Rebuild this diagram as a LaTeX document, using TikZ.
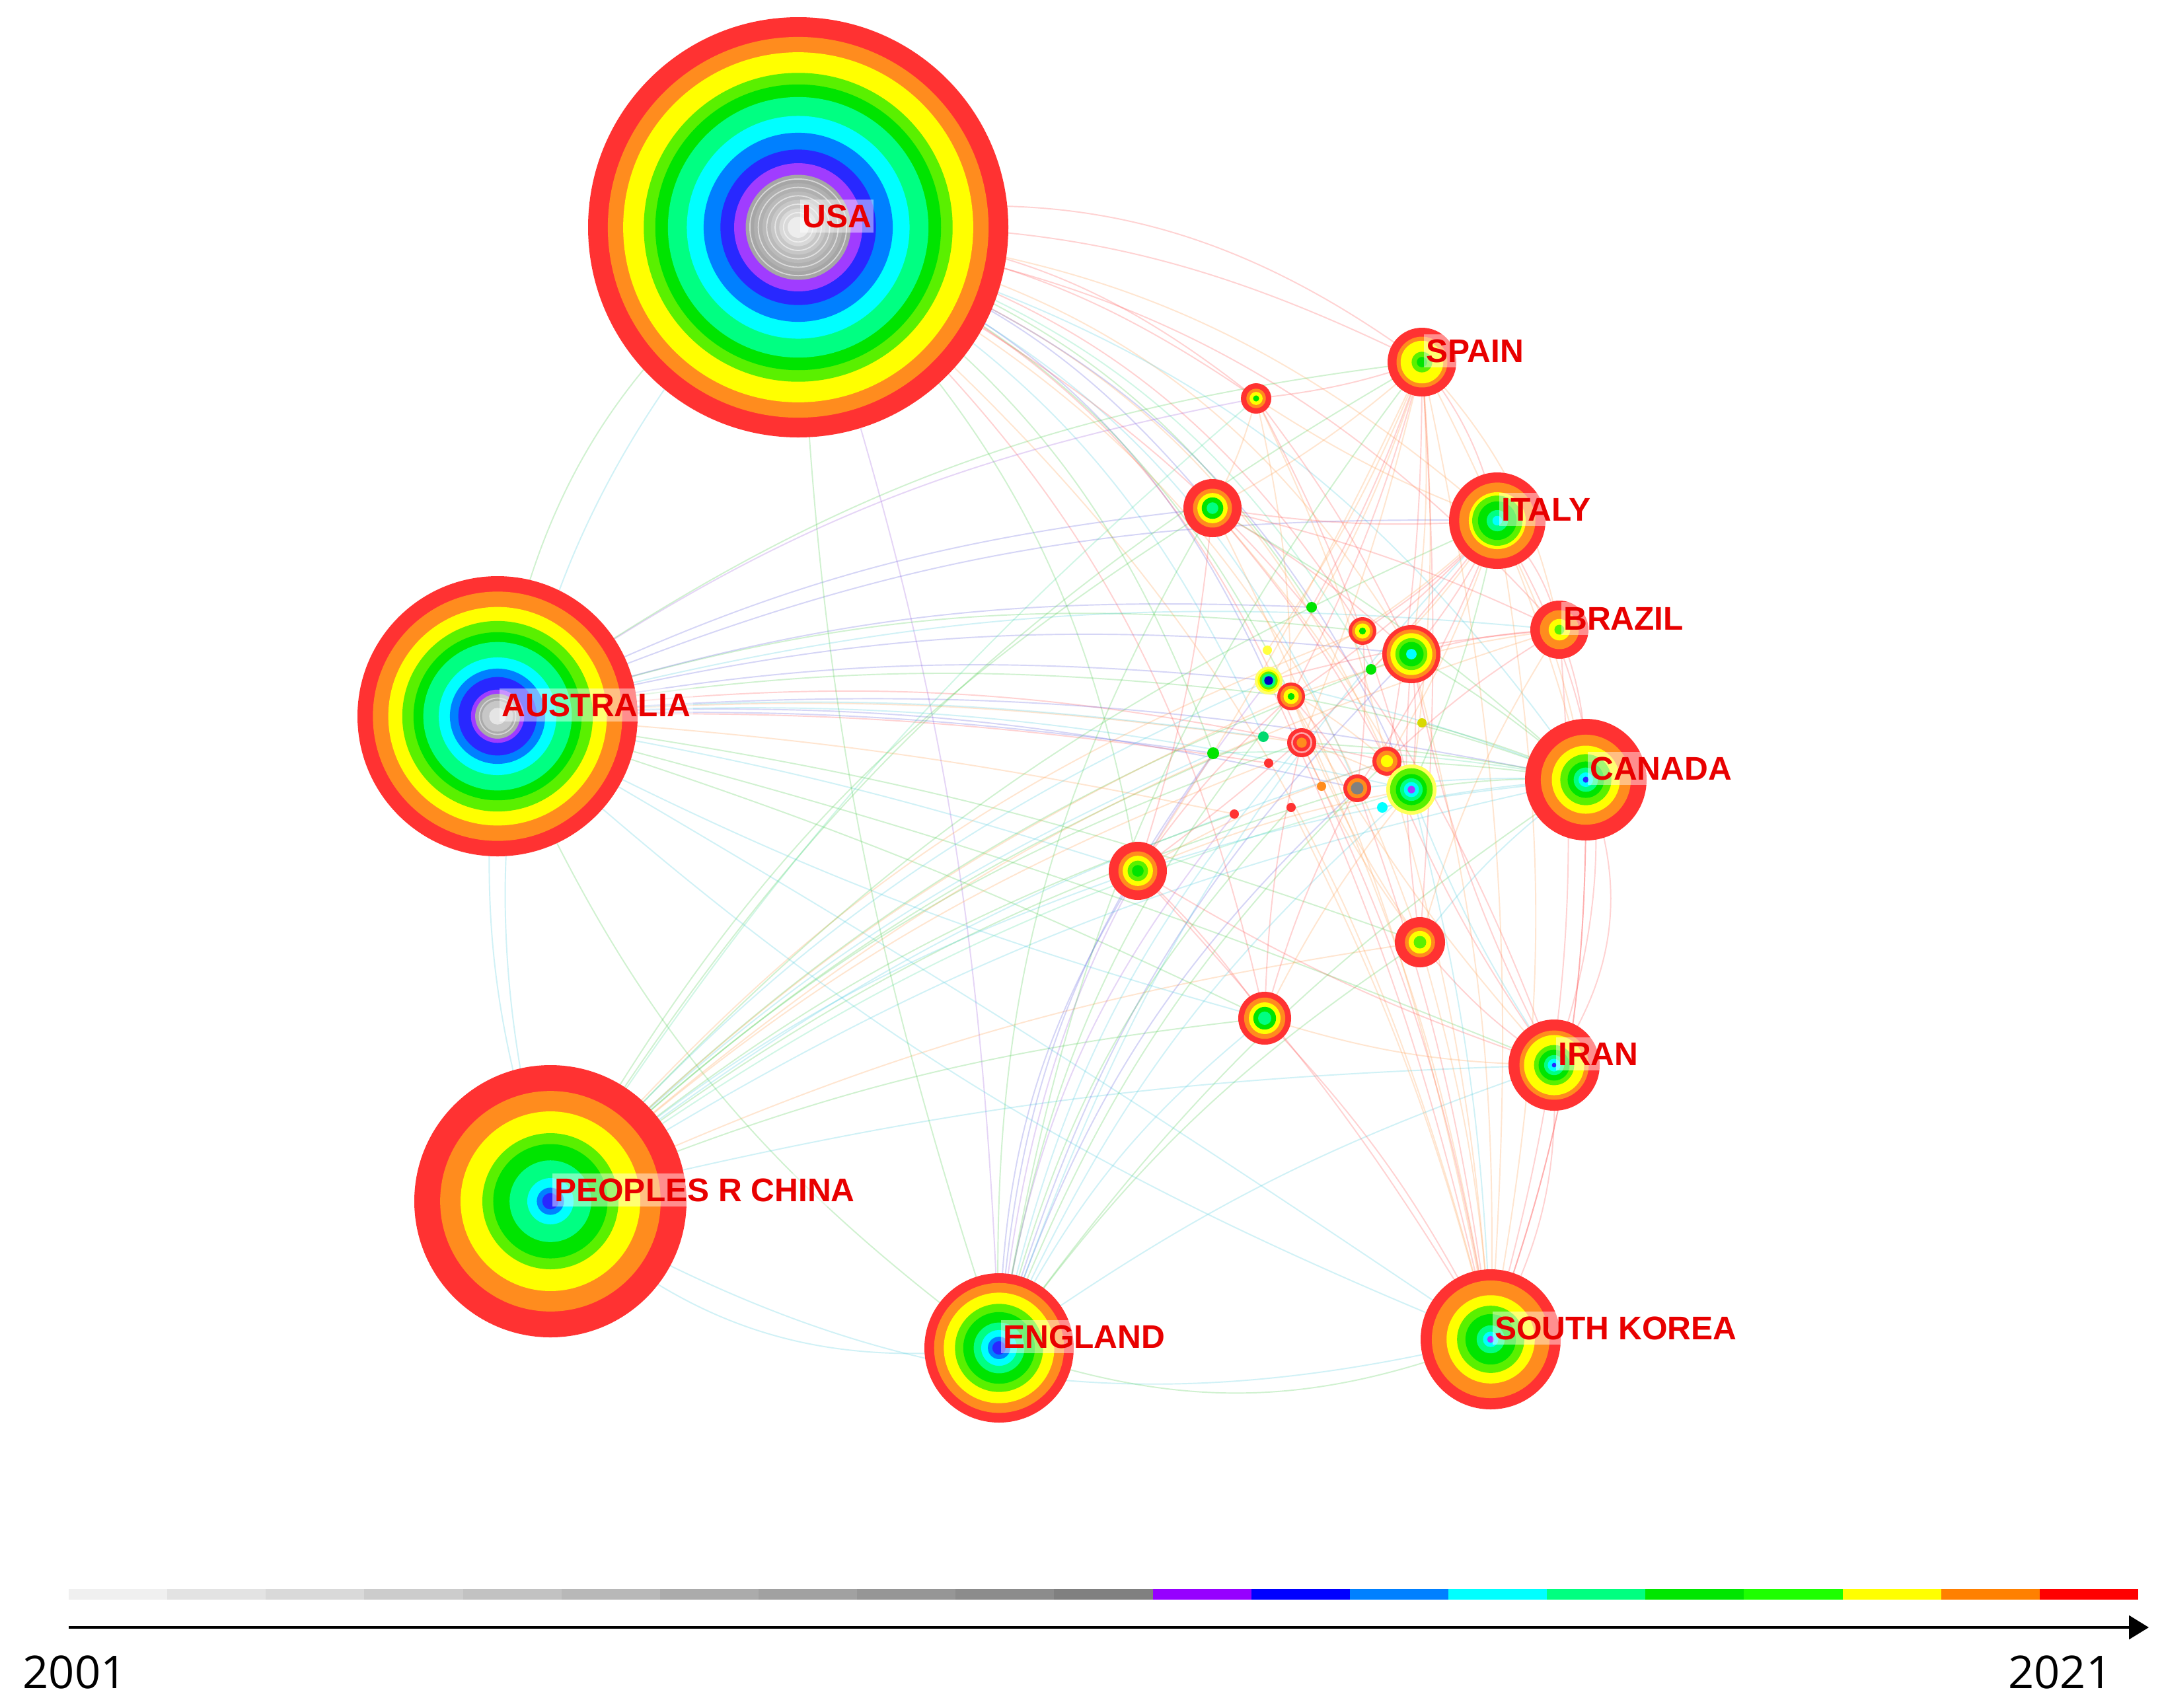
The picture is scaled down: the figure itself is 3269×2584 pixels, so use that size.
\documentclass[tikz,border=0pt]{standalone}
\usepackage{fontspec}
\newfontfamily\lblfont{Liberation Sans}
\newfontfamily\yrfont{Open Sans}
\usetikzlibrary{calc,arrows.meta}
% ring colours
\definecolor{cR}{RGB}{255,50,50}
\definecolor{cO}{RGB}{255,140,30}
\definecolor{cY}{RGB}{255,255,0}
\definecolor{cL}{RGB}{90,240,0}
\definecolor{cG}{RGB}{0,228,0}
\definecolor{cS}{RGB}{0,255,130}
\definecolor{cC}{RGB}{0,255,255}
\definecolor{cA}{RGB}{0,128,255}
\definecolor{cB}{RGB}{40,40,255}
\definecolor{cP}{RGB}{160,60,255}
% legend colours
\definecolor{lP}{RGB}{150,0,255}
\definecolor{lB}{RGB}{0,0,255}
\definecolor{lA}{RGB}{0,128,255}
\definecolor{lC}{RGB}{0,255,255}
\definecolor{lS}{RGB}{0,255,128}
\definecolor{lG}{RGB}{0,230,0}
\definecolor{lL}{RGB}{30,255,0}
\definecolor{lY}{RGB}{255,255,0}
\definecolor{lO}{RGB}{255,128,0}
\definecolor{lR}{RGB}{255,0,0}
% edge colours
\definecolor{eR}{RGB}{255,70,70}
\definecolor{eO}{RGB}{255,150,60}
\definecolor{eG}{RGB}{60,200,60}
\definecolor{eC}{RGB}{60,200,220}
\definecolor{eB}{RGB}{80,80,220}
\definecolor{eP}{RGB}{150,80,220}
\definecolor{eS}{RGB}{60,220,150}
\definecolor{lblred}{RGB}{232,0,0}
\newcommand\rg[3]{\foreach \rgf/\rgc in {#3}{\fill[\rgc] (#1) circle[radius=\rgf*#2*0.01cm];}}
\tikzset{
  edge/.style={line width=0.55pt, opacity=0.24},
  lbl/.style={anchor=west, font=\lblfont\bfseries\fontsize{14.1}{16}\selectfont, text=lblred,
    fill=white, fill opacity=0.45, text opacity=1, inner xsep=1pt, inner ysep=2pt,
    text height=0.355cm, text depth=0pt},
  yr/.style={font=\yrfont\fontsize{19.5}{22}\selectfont, inner sep=0pt, text=black}
}
\begin{document}
\begin{tikzpicture}[x=0.01cm,y=-0.01cm]
\useasboundingbox (0,0) rectangle (3269,2584);
\fill[white] (0,0) rectangle (3269,2584);
% ---------- node centres ----------
\coordinate (usa) at (1208,344);
\coordinate (aus) at (753,1084);
\coordinate (chn) at (833,1818);
\coordinate (eng) at (1512,2040);
\coordinate (kor) at (2256,2027);
\coordinate (irn) at (2352,1612);
\coordinate (can) at (2400,1180);
\coordinate (bra) at (2360,953);
\coordinate (ita) at (2266,788);
\coordinate (esp) at (2152,548);
\coordinate (s1) at (1901,603);
\coordinate (s2) at (1835,769);
\coordinate (s3) at (1722,1318);
\coordinate (s4) at (2149,1426);
\coordinate (s5) at (1914,1541);
\coordinate (a1) at (1985,919);
\coordinate (a2) at (2062,955);
\coordinate (a3) at (2136,990);
\coordinate (a4) at (2075,1013);
\coordinate (a5) at (1918,984);
\coordinate (a6) at (1920,1030);
\coordinate (a7) at (1954,1054);
\coordinate (a8) at (2152,1094);
\coordinate (a9) at (1912,1115);
\coordinate (a10) at (1970,1124);
\coordinate (a11) at (1836,1140);
\coordinate (a12) at (1920,1155);
\coordinate (a13) at (2099,1152);
\coordinate (a14) at (2000,1190);
\coordinate (a15) at (2054,1193);
\coordinate (a16) at (2136,1195);
\coordinate (a17) at (2092,1222);
\coordinate (a18) at (1954,1222);
\coordinate (a19) at (1868,1232);
% ---------- connectors ----------
\foreach \et/\ec/\eb in {a2/eR/22,a3/eO/24,a6/eB/22,a7/eG/20,a10/eR/22,a13/eO/24,a15/eC/22,a16/eB/24,a1/eG/20,a4/eS/22,a9/eC/18,a11/eG/18,s1/eR/18,s2/eB/16,s3/eG/18,s4/eO/22,s5/eR/18,esp/eR/14,ita/eO/18,bra/eR/20,can/eC/20,irn/eR/22,kor/eO/18,eng/eP/8}
  {\draw[edge,\ec] (usa) to[bend left=\eb] (\et);}
\draw[edge,eC] (usa) to[bend right=30] (chn);
\draw[edge,eG] (usa) to[bend right=22] (aus);
\draw[edge,eR] (usa) to[bend left=24] (esp);
\foreach \et/\ec/\eb in {a3/eB/10,a6/eB/8,a7/eG/8,a10/eO/6,a13/eR/10,a15/eB/8,a16/eC/8,a2/eG/12,a12/eR/5,a19/eO/4,s2/eB/10,s3/eC/4,s4/eG/6,s5/eG/4,s1/eP/12,esp/eG/14,ita/eB/12,bra/eC/10,can/eB/8,irn/eG/4,kor/eC/2,a1/eB/10,a9/eC/6,a11/eB/5}
  {\draw[edge,\ec] (aus) to[bend left=\eb] (\et);}
\draw[edge,eG] (aus) to[bend right=15] (eng);
\draw[edge,eC] (aus) to[bend right=12] (chn);
\foreach \et/\ec/\eb in {a3/eG/12,a6/eC/12,a7/eO/10,a10/eG/12,a13/eC/10,a15/eG/10,a16/eS/10,a2/eO/14,a9/eG/10,s2/eG/14,s3/eC/10,s4/eO/8,s5/eG/8,ita/eG/12,can/eC/10,bra/eO/12,esp/eG/14,irn/eC/6,a11/eC/10,a19/eG/10,a12/eO/10}
  {\draw[edge,\ec] (chn) to[bend left=\eb] (\et);}
\draw[edge,eC] (chn) to[bend right=25] (eng);
\draw[edge,eC] (chn) to[bend right=22] (kor);
\foreach \et/\ec/\eb in {a3/eB/14,a6/eP/16,a7/eG/15,a10/eC/14,a13/eG/12,a15/eB/14,a16/eC/12,s2/eG/16,s3/eB/15,s4/eG/10,s5/eC/12,can/eG/10,ita/eC/12,esp/eG/14,irn/eC/8,a11/eB/16,a19/eP/15,a18/eG/14}
  {\draw[edge,\ec] (eng) to[bend left=\eb] (\et);}
\draw[edge,eG] (eng) to[bend right=20] (kor);
\foreach \et/\ec/\eb in {a3/eO/8,a6/eR/6,a7/eO/8,a10/eR/8,a13/eO/6,a16/eC/6,s2/eO/8,s3/eR/6,s4/eO/6,s5/eR/8,can/eR/10,ita/eO/10,esp/eO/8,bra/eR/10,a15/eR/6,a18/eO/6}
  {\draw[edge,\ec] (kor) to[bend right=\eb] (\et);}
\draw[edge,eR] (kor) to[bend right=15] (irn);
\foreach \et/\ec/\eb in {a3/eO/6,a6/eO/8,a7/eR/6,a10/eO/4,a13/eR/5,a16/eO/6,s1/eR/6,s2/eO/6,s3/eO/4,s4/eR/4,can/eO/6,a1/eR/5,a5/eO/6}
  {\draw[edge,\ec] (esp) to[bend left=\eb] (\et);}
\draw[edge,eR] (esp) to[bend left=12] (ita);
\draw[edge,eO] (esp) to[bend left=15] (bra);
\foreach \et/\ec/\eb in {a3/eR/6,a6/eO/8,a7/eR/6,a13/eO/6,a15/eR/6,a16/eG/6,s1/eO/6,s2/eR/6,s3/eR/8,can/eO/8,a2/eR/6,a4/eO/6}
  {\draw[edge,\ec] (ita) to[bend left=\eb] (\et);}
\draw[edge,eR] (ita) to[bend left=15] (bra);
\draw[edge,eR] (ita) to[bend left=25] (irn);
\foreach \et/\ec/\eb in {a3/eG/5,a6/eC/4,a7/eG/5,a10/eG/4,a13/eG/3,a16/eG/5,a15/eC/4,s2/eG/6,s3/eC/6,s4/eC/8,a8/eG/4,a17/eC/4,a11/eS/6}
  {\draw[edge,\ec] (can) to[bend right=\eb] (\et);}
\draw[edge,eR] (can) to[bend left=28] (irn);
\draw[edge,eR] (can) to[bend right=10] (bra);
\draw[edge,eR] (can) to[bend left=10] (kor);
\foreach \et/\ec/\eb in {a3/eR/6,a7/eO/6,a13/eR/6,s2/eR/6,s4/eO/8,a6/eR/5}
  {\draw[edge,\ec] (bra) to[bend right=\eb] (\et);}
\foreach \et/\ec/\eb in {a3/eR/8,a16/eC/6,a13/eR/6,s3/eR/6,s4/eR/8,s5/eO/8,a7/eO/6}
  {\draw[edge,\ec] (irn) to[bend left=\eb] (\et);}
\foreach \es/\et/\ec in {s1/a3/eR,s1/a7/eO,s1/a16/eR,s1/s2/eO,s2/a3/eR,s2/a16/eO,s2/a13/eR,s3/a7/eR,s3/a13/eO,s3/s5/eR,s5/a15/eR,s5/a16/eO,s4/a3/eR,s4/a10/eO,a3/a16/eR,a6/a13/eO,a7/a15/eR,a10/a16/eO,a2/a15/eR,s1/a13/eO,s2/s3/eR,s3/a16/eO,s5/a10/eR,s4/a7/eO}
  {\draw[edge,\ec] (\es) to[bend left=6] (\et);}
\draw[edge,eR] (usa) to[bend left=14] (s1);
\draw[edge,eC] (aus) to[bend right=10] (kor);
\draw[edge,eC] (aus) to[bend right=6] (s5);
\draw[edge,eG] (usa) to[bend right=8] (eng);
\draw[edge,eS] (chn) to[bend left=8] (s1);
% ---------- nodes ----------
\rg{usa}{318}{1/cR,.906/cO,.833/cY,.735/cL,.68/cG,.62/cS,.53/cC,.45/cA,.37/cB,.305/cP,.25/black!35,.21/black!31,.17/black!27,.13/black!22,.09/black!15,.05/black!7}
\foreach \q in {.23,.19,.15,.11,.07}{\draw[white,opacity=.55,line width=0.5pt] (usa) circle[radius=\q*318*0.01cm];}
\rg{aus}{212}{1/cR,.89/cO,.78/cY,.68/cL,.6/cG,.53/cS,.42/cC,.34/cA,.28/cB,.19/cP,.16/black!33,.11/black!22,.06/black!10}
\draw[white,opacity=.5,line width=0.5pt] (aus) circle[radius=.13*212*0.01cm];
\rg{chn}{206}{1/cR,.81/cO,.66/cY,.5/cL,.42/cG,.3/cS,.17/cC,.1/cA,.06/cB}
\rg{eng}{113}{1/cR,.87/cO,.74/cY,.59/cL,.48/cG,.34/cS,.24/cC,.15/cA,.09/cB}
\rg{kor}{106}{1/cR,.84/cO,.63/cY,.48/cL,.36/cG,.2/cS,.11/cC,.05/cP}
\rg{irn}{69}{1/cR,.76/cO,.66/cY,.44/cL,.34/cG,.22/cS,.14/cC,.05/cB}
\rg{can}{92}{1/cR,.74/cO,.56/cY,.42/cL,.3/cG,.2/cS,.12/cC,.05/cB}
\rg{bra}{44}{1/cR,.67/cO,.37/cY,.17/cL}
\rg{ita}{73}{1/cR,.79/cO,.59/cY,.52/cL,.4/cG,.22/cS,.1/cC}
\rg{esp}{52}{1/cR,.74/cO,.62/cY,.3/cL,.15/cG}
\rg{s1}{23}{1/cR,.64/cO,.43/cY,.2/cG}
\rg{s2}{44}{1/cR,.67/cO,.52/cY,.37/cG,.2/cS}
\rg{s3}{44}{1/cR,.67/cO,.52/cY,.35/cL,.2/cG}
\rg{s4}{38}{1/cR,.6/cO,.45/cY,.25/cL}
\rg{s5}{40}{1/cR,.78/cO,.6/cY,.43/cG,.25/cS}
\rg{a1}{8}{1/cG}
\rg{a2}{21}{1/cR,.75/cO,.55/cY,.25/cG}
\rg{a3}{44}{1/cR,.85/cO,.72/cY,.55/cL,.42/cG,.18/cC}
\rg{a4}{8}{1/cG}
\rg{a5}{7}{1/cY!75!white}
\rg{a6}{21}{1/cY!60!white,.8/cY,.65/cL,.5/cS,.32/blue!75!black}
\rg{a7}{21}{1/cR,.78/cO,.55/cY,.25/cG}
\rg{a8}{7}{1/cY!85!black}
\rg{a9}{8}{1/cS!85!black}
\rg{a10}{22}{1/cR,.72/red!35!white,.6/cR,.35/cO}
\rg{a11}{9}{1/cG}
\rg{a12}{7}{1/cR}
\rg{a13}{22}{1/cR,.72/cO,.42/cY}
\rg{a14}{7}{1/cO}
\rg{a15}{21}{1/cR,.72/cO,.45/gray}
\rg{a16}{38}{1/cY!65!white,.85/cL,.62/cG,.45/cS,.3/cC,.15/cP}
\rg{a17}{8}{1/cC}
\rg{a18}{7}{1/cR}
\rg{a19}{7}{1/cR}
% ---------- labels ----------
\node[lbl] (usaL) at ($(usa)+(2,-17)$) {USA};
\node[lbl] (ausL) at ($(aus)+(2,-17)$) {AUSTRALIA};
\node[lbl] (chnL) at ($(chn)+(2,-17)$) {PEOPLES R CHINA};
\node[lbl] (engL) at ($(eng)+(2,-17)$) {ENGLAND};
\node[lbl] (korL) at ($(kor)+(2,-17)$) {SOUTH KOREA};
\node[lbl] (irnL) at ($(irn)+(2,-17)$) {IRAN};
\node[lbl] (canL) at ($(can)+(2,-17)$) {CANADA};
\node[lbl] (braL) at ($(bra)+(2,-17)$) {BRAZIL};
\node[lbl] (itaL) at ($(ita)+(2,-17)$) {ITALY};
\node[lbl] (espL) at ($(esp)+(2,-17)$) {SPAIN};
% ---------- time legend ----------
\foreach \i/\lc in {0/black!6,1/black!11,2/black!15,3/black!20,4/black!24,5/black!28,6/black!33,7/black!37,8/black!41,9/black!45,10/black!50,11/lP,12/lB,13/lA,14/lC,15/lS,16/lG,17/lL,18/lY,19/lO,20/lR}
  {\fill[\lc] ({104+\i*149.14},2405) rectangle ({104+(\i+1)*149.14},2421);}
\coordinate (ax0) at (104,2463);
\coordinate (ax1) at (3252,2463);
\draw[line width=0.9pt,-{Triangle[length=0.3cm,width=0.36cm]}] (ax0) -- (ax1);
\node[yr,anchor=west] (y0) at (34,2531) {2001};
\node[yr,anchor=east] (y1) at (3197,2531) {2021};
\end{tikzpicture}
\end{document}
